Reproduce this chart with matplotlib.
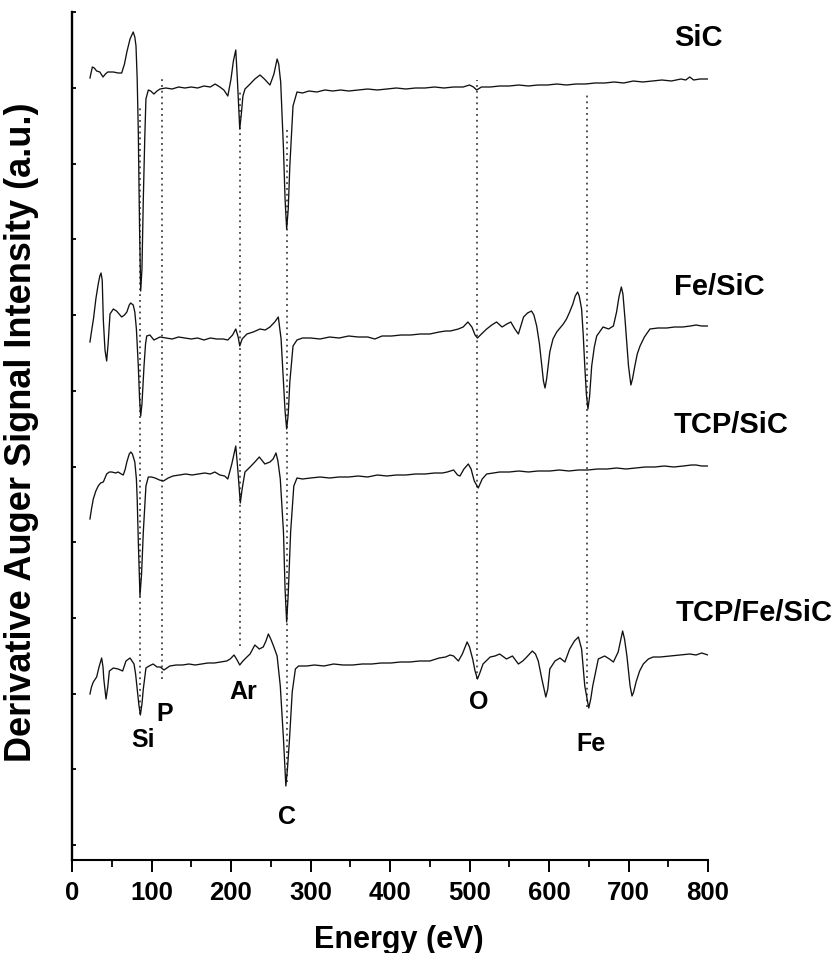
import matplotlib
matplotlib.use("Agg")
import matplotlib.pyplot as plt
from matplotlib.ticker import MultipleLocator, FixedLocator

plt.rcParams['font.family'] = ['Liberation Sans', 'DejaVu Sans']
plt.rcParams['font.weight'] = 'bold'

# --- spectra (energy in eV, intensity in a.u. incl. vertical offset) ---
sic_e = [22.6, 25.6, 28, 31, 35, 39, 42, 45, 52, 58, 62.5, 66, 69, 73, 77, 79, 80.5, 82, 83.4, 85,
         86.4, 88, 89.7, 91.5, 93, 96, 99, 103, 107, 110.7, 118, 126, 134, 142, 150, 158, 166, 174,
         180, 186, 191, 196, 200, 203, 206, 208, 211, 213, 215, 217.6, 224, 230, 236.5, 242, 249,
         254, 258, 260, 262.5, 266, 268, 270, 272, 274, 278, 283, 290, 298, 308, 318, 328, 338, 348,
         360, 372, 384, 396, 408, 420, 432, 444, 456, 468, 480, 492, 500, 505, 509, 515, 526, 538,
         550, 562, 574, 586, 598, 610, 622, 634, 646, 658, 670, 682, 694, 706, 718, 730, 742, 754,
         766, 772, 777, 782, 790, 800]
sic_v = [782, 793, 792, 789, 788, 783, 786, 788, 788, 787, 787, 796, 808, 821, 828, 823, 814, 781, 728, 631,
         569, 591, 661, 721, 761, 770, 769, 766, 769, 771, 772, 771, 773, 772, 773, 772, 774, 773,
         776, 773, 770, 764, 781, 799, 810, 781, 731, 746, 764, 771, 776, 781, 785, 781, 775,
         786, 801, 796, 778, 711, 661, 631, 651, 694, 754, 768, 767, 769, 768, 770, 769, 770, 769,
         770, 771, 770, 771, 772, 771, 772, 772, 773, 772, 773, 773, 775, 773, 770, 773, 773, 774,
         774, 775, 774, 775, 775, 776, 775, 776, 776, 777, 777, 778, 777, 779, 778, 779, 780, 779,
         781, 780, 783, 780, 781, 781]

fesic_e = [22.6, 25, 27, 30, 33, 35, 36.5, 38, 39.4, 41.5, 43.6, 45.5, 47.8, 52, 56, 62.5, 66, 69, 72, 73.8,
           77, 79, 81, 83.4, 85, 86.4, 88, 90.6, 92.5, 94, 98, 103, 110.7, 118, 126, 134, 142, 150, 158,
           166, 174, 182, 190, 196, 202, 206, 209, 211, 214, 220, 228, 236.5, 243, 249, 255, 259.5,
           263, 266, 268, 270, 272, 274, 278, 283, 290, 300, 312, 324, 336, 348, 360, 372, 381, 390,
           402, 414, 426, 438, 450, 462, 470, 476, 486, 492, 498, 503, 507, 510, 515, 521.6, 528,
           534, 541, 547, 552, 557, 561.5, 565, 568, 573, 578, 581, 584.5, 588, 591, 593, 595, 597,
           601, 605, 609.7, 618, 622, 626, 630, 633, 636, 638, 641, 643, 645, 647, 649, 651, 653.7,
           657, 660, 668, 675, 681, 685, 688, 691, 693, 695.6, 698, 700, 703, 705, 708, 711, 714.5,
           720, 727, 737, 748, 758, 768, 778, 785, 792, 800]
fesic_v = [518, 531, 541, 561, 576, 584, 587, 580, 540, 510, 499, 517, 546, 551, 549, 543, 545, 548, 555, 557,
           555, 548, 531, 494, 461, 444, 456, 494, 516, 524, 525, 520, 523, 522, 521, 523, 522, 521, 522,
           520, 522, 521, 521, 520, 525, 531, 523, 514, 521, 526, 528, 531, 530, 533, 538, 543,
           521, 478, 449, 431, 446, 478, 514, 520, 522, 522, 521, 523, 522, 524, 523, 523, 521, 524,
           524, 525, 525, 526, 526, 528, 529, 529, 531, 533, 538, 533, 525, 522, 526, 531, 535,
           538, 533, 536, 538, 531, 526, 535, 543, 547, 549, 545, 534, 516, 494, 479, 472, 481,
           508, 521, 528, 536, 541, 548, 556, 564, 568, 564, 551, 526, 494, 466, 451, 463, 494,
           513, 524, 533, 531, 534, 548, 563, 573, 566, 541, 516, 494, 475, 481, 494, 506, 514,
           523, 531, 532, 532, 533, 533, 534, 535, 534, 534]

tcpsic_e = [22.6, 24.5, 26.8, 30, 33, 36, 39.4, 43.6, 47, 50, 55, 58, 62, 64.5, 67, 69, 72, 74, 76, 79,
            81, 82, 83.5, 85.5, 87.5, 89.7, 93, 96, 100, 104.5, 110, 115, 121, 127, 135, 143, 151,
            159, 167, 174, 179.6, 186, 192, 196, 201, 206, 208.5, 211.7, 214, 217.6, 224, 230, 235.6,
            242.6, 249, 253, 256.6, 259, 262, 266, 268, 270, 272, 275, 279, 283, 290, 300, 312, 324,
            336, 348, 360, 372, 384, 396, 408, 420, 432, 444, 456, 466, 472, 480, 485, 488, 493,
            498.5, 502, 506, 511, 516, 521.6, 530, 538, 550, 562, 574, 586, 601, 613, 625, 637, 649,
            661, 673, 685, 697, 709, 721, 733, 745, 757, 769, 779, 785, 792, 800]
tcpsic_v = [341, 351, 361, 369, 374, 377, 378, 386, 388, 388, 387, 388, 386, 385, 391, 398, 406, 408, 406, 398,
            381, 361, 316, 264, 286, 328, 374, 383, 383, 382, 380, 379, 382, 384, 385, 386, 385,
            386, 387, 386, 388, 385, 384, 381, 396, 414, 391, 357, 371, 388, 393, 398, 403,
            396, 398, 401, 407, 399, 381, 328, 271, 238, 266, 328, 374, 382, 381, 382, 383, 382,
            383, 383, 384, 383, 385, 384, 385, 385, 386, 386, 387, 387, 388, 390, 385, 384, 391,
            396, 391, 379, 372, 381, 386, 387, 388, 388, 389, 388, 389, 389, 390, 389, 390, 390,
            391, 391, 392, 391, 392, 393, 393, 394, 393, 394, 395, 395, 394, 394]

tcpfesic_e = [22.6, 24.5, 26.8, 31, 34, 37.3, 39, 40, 42.8, 45, 47, 52, 58, 63.7, 67.9, 73, 78, 80, 82, 84,
              86, 88, 89.7, 93, 97, 102, 107, 111, 115.7, 123, 131, 139, 147, 155, 163, 171, 179, 187,
              194.6, 199, 203.8, 207, 211, 215, 220, 224, 230, 235.6, 240.5, 244, 247, 250, 253.5, 258,
              262, 266, 269, 271, 273.6, 277, 281, 285, 295, 305, 317, 329, 341, 353, 365, 377, 389,
              401, 413, 425, 437, 450, 462, 470, 475.5, 480, 486, 491, 497, 500, 504, 507, 510, 513,
              517, 526, 532, 538, 546.5, 554, 561.5, 567, 572, 579, 583, 586.5, 591, 596, 598.5, 601,
              607.5, 613.8, 620, 626, 632, 637, 641, 645, 650, 652.5, 655, 662, 670, 676, 681, 687,
              692.6, 695, 698, 702, 704.4, 706.5, 709.5, 714, 718.6, 725, 731, 740, 752, 764, 777,
              785, 792, 800]
tcpfesic_v = [166, 173, 178, 183, 193, 202, 193, 181, 161, 173, 189, 192, 191, 189, 199, 202, 196, 186, 171, 156,
              145, 156, 171, 192, 194, 196, 193, 193, 190, 194, 195, 195, 196, 195, 196, 197, 197, 198,
              199, 201, 205, 201, 195, 199, 203, 206, 215, 211, 213, 219, 226, 221, 214, 204,
              174, 121, 74, 91, 121, 168, 191, 194, 194, 195, 194, 196, 195, 195, 196, 196, 197,
              197, 198, 198, 199, 199, 202, 203, 205, 204, 199, 206, 218, 213, 201, 189, 181, 187,
              196, 203, 204, 206, 201, 204, 196, 199, 203, 209, 206, 199, 181, 163, 171, 191,
              199, 202, 198, 211, 219, 223, 211, 174, 152, 161, 174, 201, 204, 201, 198, 208,
              229, 221, 204, 174, 164, 168, 178, 189, 196, 201, 203, 203, 204, 205, 206,
              205, 207, 205]

# sample labels (left edge energy, intensity)
sample_names = ["SiC", "Fe/SiC", "TCP/SiC", "TCP/Fe/SiC"]
sample_label_e = [757, 757, 757, 759]
sample_label_v = [823, 574, 436, 248]

# element marker lines: energy, top, bottom
elem_names = ["Si", "P", "Ar", "C", "O", "Fe"]
elem_e = [86, 113, 211, 270, 509, 648]
elem_line_top = [753, 781, 768, 731, 780, 768]
elem_line_bot = [146, 181, 214, 78, 181, 153]
elem_label_e = [89, 117, 216, 271, 511, 653]
elem_label_v = [121, 147, 169, 44, 159, 117]

fig = plt.figure(figsize=(8.35, 9.54), dpi=100)
ax = fig.add_axes([72 / 835, 1 - 861 / 954, (708 - 72) / 835, (861 - 13) / 954])

# dotted guide lines first so spectra sit on top
ax.vlines(elem_e, elem_line_bot, elem_line_top, colors='#222222',
          linestyles=(0, (1.2, 2.6)), linewidth=1.1)

for e, v in [(sic_e, sic_v), (fesic_e, fesic_v), (tcpsic_e, tcpsic_v), (tcpfesic_e, tcpfesic_v)]:
    ax.plot(e, v, color='#111111', linewidth=0.95)

for name, x, y in zip(sample_names, sample_label_e, sample_label_v):
    ax.text(x, y, name, fontsize=21, fontweight='bold', ha='left', va='center', clip_on=False)

for name, x, y in zip(elem_names, elem_label_e, elem_label_v):
    ax.text(x, y, name, fontsize=18, fontweight='bold', ha='center', va='center')

ax.set_xlim(0, 800)
ax.set_ylim(0, 848)
ax.spines['top'].set_visible(False)
ax.spines['right'].set_visible(False)
ax.spines['left'].set_linewidth(1.7)
ax.spines['bottom'].set_linewidth(1.5)

ax.xaxis.set_major_locator(MultipleLocator(100))
ax.xaxis.set_minor_locator(MultipleLocator(50))
ax.tick_params(axis='x', which='major', direction='out', length=8.5, width=1.4, pad=6,
               labelsize=18.5)
ax.tick_params(axis='x', which='minor', direction='out', length=5, width=1.3)
for lab in ax.get_xticklabels():
    lab.set_fontweight('bold')

ax.yaxis.set_major_locator(FixedLocator([15 + 75.7 * k for k in range(12)]))
ax.tick_params(axis='y', which='major', direction='in', length=3, width=1.3, labelleft=False)

fig.text(399 / 835, 1 - 940 / 954, "Energy (eV)", fontsize=22, fontweight='bold',
         ha='center', va='center')
fig.text(22 / 835, 1 - 432 / 954, "Derivative Auger Signal Intensity (a.u.)", fontsize=26,
         fontweight='bold', rotation=90, ha='center', va='center')

fig.savefig("out.png", dpi=100)
